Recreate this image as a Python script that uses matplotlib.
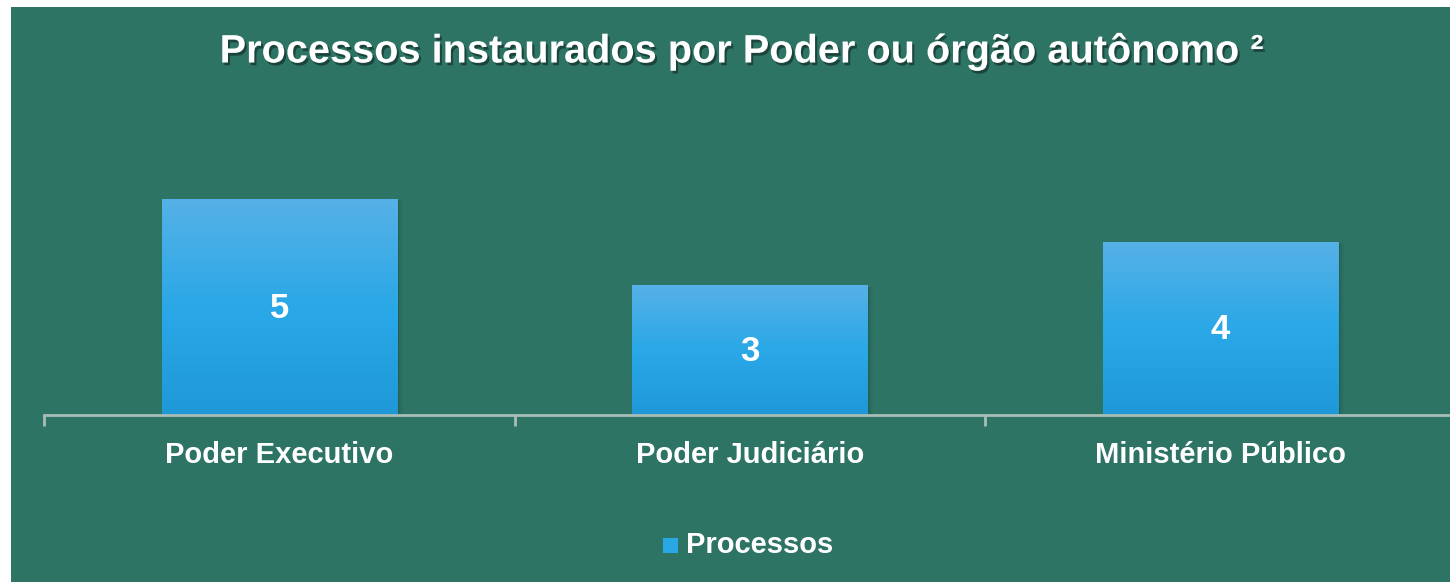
import numpy as np
import matplotlib
matplotlib.use("Agg")
import matplotlib.pyplot as plt
import matplotlib.patheffects as pe
from matplotlib.patches import Rectangle
from matplotlib.colors import LinearSegmentedColormap

categories = ["Poder Executivo", "Poder Judiciário", "Ministério Público"]
processos = [5, 3, 4]
series_name = "Processos"
title = "Processos instaurados por Poder ou órgão autônomo ²"

BG = "#2D7465"
W, H = 1450, 582

plt.rcParams["font.family"] = ["Liberation Sans", "DejaVu Sans"]

fig = plt.figure(figsize=(W / 100, H / 100), dpi=100)
fig.patch.set_facecolor("white")
fig.patches.append(Rectangle((11 / W, 0), 1, (H - 7) / H, transform=fig.transFigure,
                             facecolor=BG, edgecolor="none", zorder=-10))

ax = fig.add_axes([44 / W, (H - 415) / H, 1411.5 / W, 259.2 / H])
ax.set_facecolor("none")
ax.set_zorder(1)

x = np.arange(len(categories))
bars = ax.bar(x, processos, width=0.5, color="#2AA7E5", zorder=2)

grad = LinearSegmentedColormap.from_list("g", ["#1F98D8", "#2AA8E7", "#56B1E6"])
for b, val in zip(bars, processos):
    bx, by = b.get_x(), b.get_y()
    bw, bh = b.get_width(), b.get_height()
    # soft shadow to the right
    for k, a in [(0.004, 0.25), (0.008, 0.15), (0.012, 0.08)]:
        ax.add_patch(Rectangle((bx + k, by), bw, bh - 0.03, facecolor="#1a4a40",
                               alpha=a, edgecolor="none", zorder=1))
    im = ax.imshow(np.linspace(0, 1, 256).reshape(-1, 1), cmap=grad, origin="lower",
                   extent=[bx, bx + bw, by, by + bh], aspect="auto", zorder=2.5)
    im.set_clip_path(b)
    ax.text(bx + bw / 2, by + bh / 2 - 0.03, str(val), ha="center", va="center",
            color="white", fontsize=25, fontweight="bold", zorder=3)

ax.set_xlim(-0.5, 2.5)
ax.set_ylim(0, 6)
for s in ["top", "right", "left"]:
    ax.spines[s].set_visible(False)
ax.spines["bottom"].set_color("#A9BDB7")
ax.spines["bottom"].set_linewidth(2)
ax.spines["bottom"].set_zorder(4)
ax.set_yticks([])
ax.set_xticks([-0.5, 0.5, 1.5, 2.5])
ax.set_xticklabels([])
ax.tick_params(axis="x", length=8, width=2, color="#A9BDB7", direction="out")
for xi, name in zip(x, categories):
    ax.text(xi, -0.92, name, ha="center", va="center", color="white",
            fontsize=21, fontweight="bold")

fig.text(742 / W, 1 - 51 / H, title, ha="center", va="center", color="white",
         fontsize=28.6, fontweight="bold",
         path_effects=[pe.withSimplePatchShadow(offset=(1.5, -2), shadow_rgbFace="black", alpha=0.4)])

# legend
fig.patches.append(Rectangle((663 / W, 1 - 553 / H), 15 / W, 15 / H, transform=fig.transFigure,
                             facecolor="#2AA7E5", edgecolor="none", zorder=3))
fig.text(686 / W, 1 - 545 / H, series_name, ha="left", va="center", color="white",
         fontsize=21, fontweight="bold")

fig.savefig("out.png", dpi=100, facecolor=fig.get_facecolor())
